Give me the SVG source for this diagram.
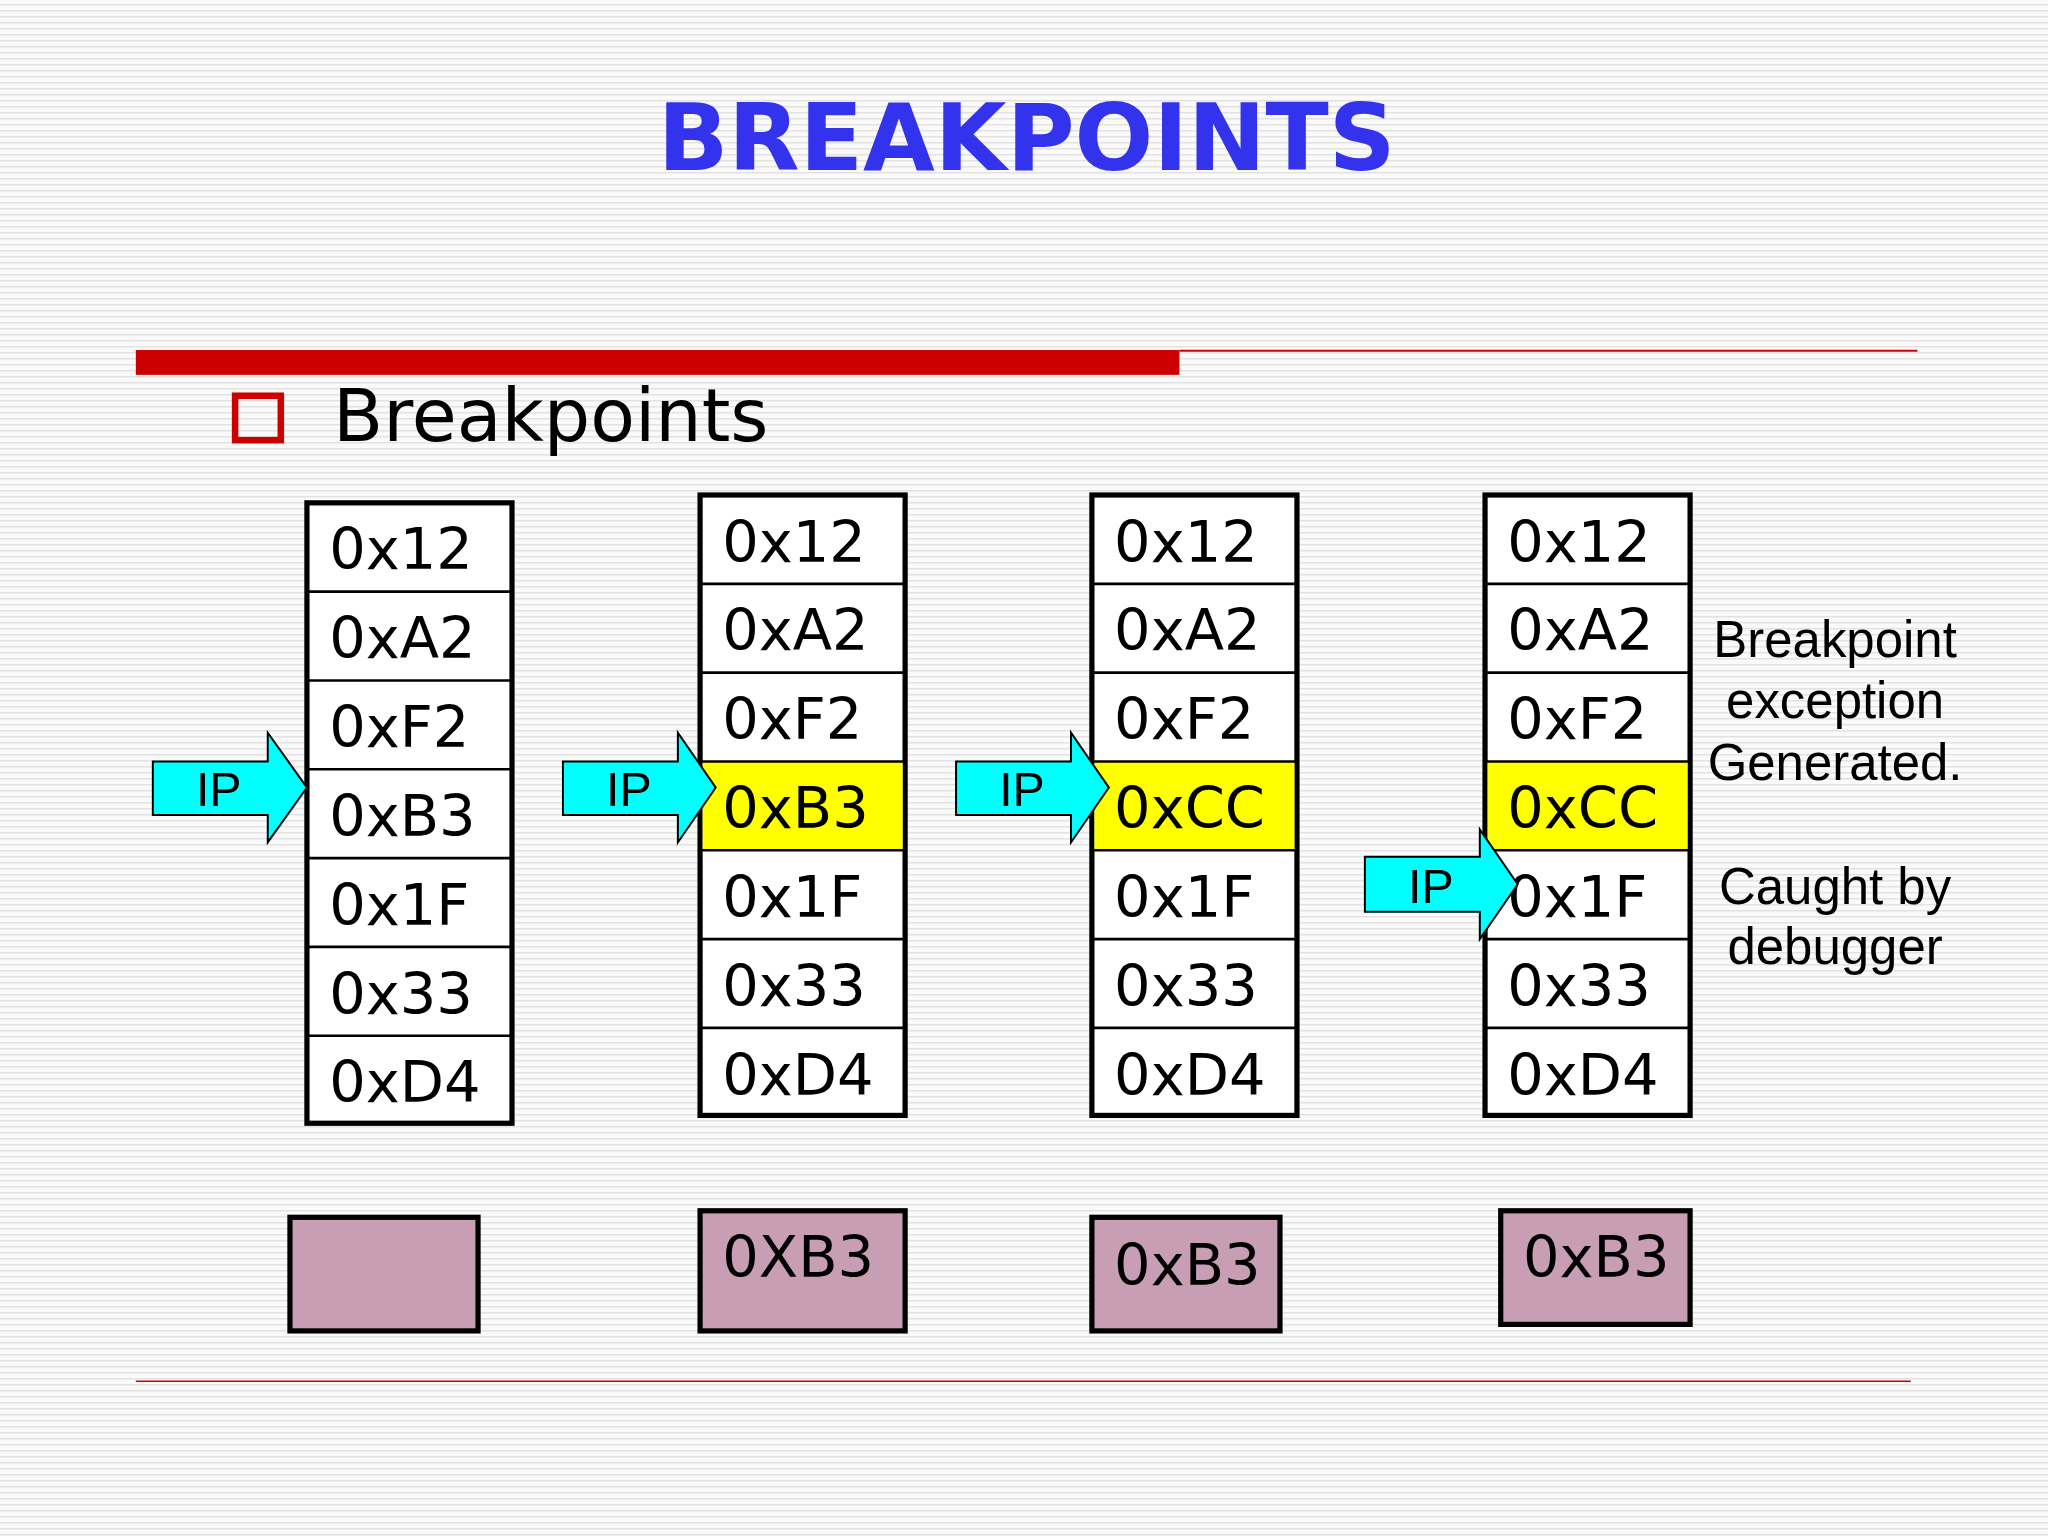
<svg xmlns="http://www.w3.org/2000/svg" width="2048" height="1536" viewBox="0 0 2048 1536">
<defs>
<pattern id="st" width="10" height="6" patternUnits="userSpaceOnUse"><rect width="10" height="6" fill="#fafafa"/><rect y="4" width="10" height="1.5" fill="#e2e2e2"/></pattern>
<style>
.cell{fill:#fff;stroke:#000;stroke-width:4}
.y{fill:#ffff00}
.t{font-family:"DejaVu Sans",Verdana,sans-serif;font-size:44px;fill:#000}
.ip{fill:#00ffff;stroke:#000;stroke-width:1.5}
.ipt{font-family:"Liberation Sans",Arial,sans-serif;font-size:37px;fill:#000}
.reg{fill:#c89eb4;stroke:#000;stroke-width:4}
.side{font-family:"Liberation Sans",Arial,sans-serif;font-size:39px;fill:#000;text-anchor:middle}
</style>
</defs>
<rect width="2048" height="1536" fill="url(#st)"/>
<g transform="scale(1.3061)">
<text x="786" y="130" text-anchor="middle" font-family="'DejaVu Sans',Verdana,sans-serif" font-weight="bold" font-size="71" fill="#3333ee">BREAKPOINTS</text>
<rect x="104" y="268" width="799" height="19" fill="#cc0000"/>
<line x1="903" y1="268.5" x2="1468" y2="268.5" stroke="#cc0000" stroke-width="1.5"/>
<rect x="180" y="303" width="35" height="34" fill="none" stroke="#cc0000" stroke-width="5"/>
<text x="255" y="338" font-family="'DejaVu Sans',Verdana,sans-serif" font-size="56">Breakpoints</text>
<line x1="104" y1="1057.5" x2="1463" y2="1057.5" stroke="#cc0000" stroke-width="1.2"/>

<g id="col1">
<rect class="cell" x="235" y="385" width="157" height="475"/>
<g stroke="#000" stroke-width="2"><line x1="235" y1="453" x2="392" y2="453"/><line x1="235" y1="521" x2="392" y2="521"/><line x1="235" y1="589" x2="392" y2="589"/><line x1="235" y1="657" x2="392" y2="657"/><line x1="235" y1="725" x2="392" y2="725"/><line x1="235" y1="793" x2="392" y2="793"/></g>
<g class="t"><text x="252" y="436">0x12</text><text x="252" y="504">0xA2</text><text x="252" y="572">0xF2</text><text x="252" y="640">0xB3</text><text x="252" y="708">0x1F</text><text x="252" y="776">0x33</text><text x="252" y="844">0xD4</text></g>
</g>

<g id="col2">
<rect class="cell" x="536" y="379" width="157" height="475"/>
<rect class="y" x="538" y="583" width="153" height="68"/>
<g stroke="#000" stroke-width="2"><line x1="536" y1="447" x2="693" y2="447"/><line x1="536" y1="515" x2="693" y2="515"/><line x1="536" y1="583" x2="693" y2="583"/><line x1="536" y1="651" x2="693" y2="651"/><line x1="536" y1="719" x2="693" y2="719"/><line x1="536" y1="787" x2="693" y2="787"/></g>
<g class="t"><text x="553" y="430">0x12</text><text x="553" y="498">0xA2</text><text x="553" y="566">0xF2</text><text x="553" y="634">0xB3</text><text x="553" y="702">0x1F</text><text x="553" y="770">0x33</text><text x="553" y="838">0xD4</text></g>
</g>

<g id="col3">
<rect class="cell" x="836" y="379" width="157" height="475"/>
<rect class="y" x="838" y="583" width="153" height="68"/>
<g stroke="#000" stroke-width="2"><line x1="836" y1="447" x2="993" y2="447"/><line x1="836" y1="515" x2="993" y2="515"/><line x1="836" y1="583" x2="993" y2="583"/><line x1="836" y1="651" x2="993" y2="651"/><line x1="836" y1="719" x2="993" y2="719"/><line x1="836" y1="787" x2="993" y2="787"/></g>
<g class="t"><text x="853" y="430">0x12</text><text x="853" y="498">0xA2</text><text x="853" y="566">0xF2</text><text x="853" y="634">0xCC</text><text x="853" y="702">0x1F</text><text x="853" y="770">0x33</text><text x="853" y="838">0xD4</text></g>
</g>

<g id="col4">
<rect class="cell" x="1137" y="379" width="157" height="475"/>
<rect class="y" x="1139" y="583" width="153" height="68"/>
<g stroke="#000" stroke-width="2"><line x1="1137" y1="447" x2="1294" y2="447"/><line x1="1137" y1="515" x2="1294" y2="515"/><line x1="1137" y1="583" x2="1294" y2="583"/><line x1="1137" y1="651" x2="1294" y2="651"/><line x1="1137" y1="719" x2="1294" y2="719"/><line x1="1137" y1="787" x2="1294" y2="787"/></g>
<g class="t"><text x="1154" y="430">0x12</text><text x="1154" y="498">0xA2</text><text x="1154" y="566">0xF2</text><text x="1154" y="634">0xCC</text><text x="1154" y="702">0x1F</text><text x="1154" y="770">0x33</text><text x="1154" y="838">0xD4</text></g>
</g>

<g id="arrows">
<path class="ip" d="M117,583 H205 V561 L235,603 L205,645 V624 H117 Z"/>
<text class="ipt" x="150" y="617">IP</text>
<path class="ip" d="M431,583 H519 V561 L548,603 L519,645 V624 H431 Z"/>
<text class="ipt" x="464" y="617">IP</text>
<path class="ip" d="M732,583 H820 V561 L849,603 L820,645 V624 H732 Z"/>
<text class="ipt" x="765" y="617">IP</text>
<path class="ip" d="M1045,656 H1133 V635 L1162,677 L1133,719 V698 H1045 Z"/>
<text class="ipt" x="1078" y="691">IP</text>
</g>

<g id="regs">
<rect class="reg" x="222" y="932" width="144" height="87"/>
<rect class="reg" x="536" y="927" width="157" height="92"/>
<text class="t" x="553" y="978">0XB3</text>
<rect class="reg" x="836" y="932" width="144" height="87"/>
<text class="t" x="853" y="984">0xB3</text>
<rect class="reg" x="1149" y="927" width="145" height="87"/>
<text class="t" x="1166" y="978">0xB3</text>
</g>

<g id="notes">
<text class="side" x="1405" y="503">Breakpoint</text>
<text class="side" x="1405" y="550">exception</text>
<text class="side" x="1405" y="597">Generated.</text>
<text class="side" x="1405" y="692">Caught by</text>
<text class="side" x="1405" y="738">debugger</text>
</g>
</g>
</svg>
